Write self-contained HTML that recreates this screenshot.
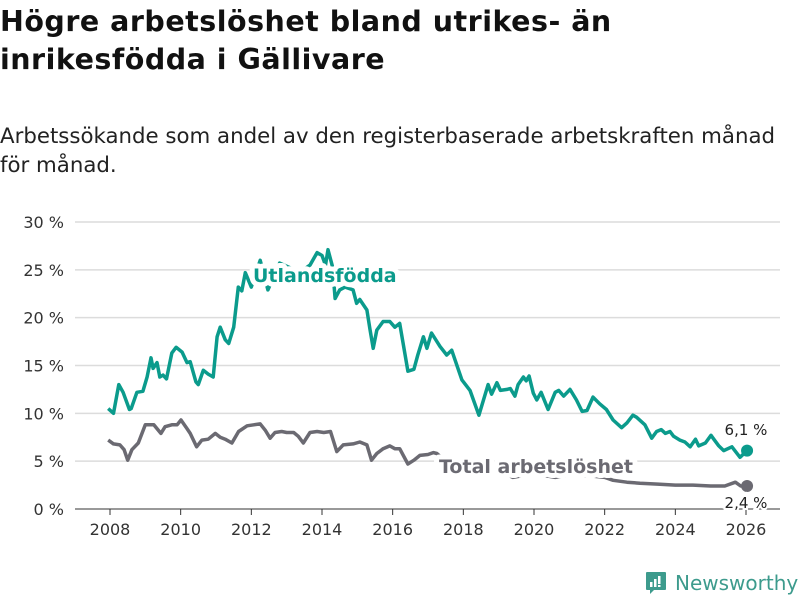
<!DOCTYPE html>
<html><head><meta charset="utf-8"><style>
body{margin:0;background:#fff;width:800px;height:600px;overflow:hidden;font-family:"DejaVu Sans","Liberation Sans",sans-serif;}
#title{position:absolute;left:0;top:3px;font:bold 28.5px/38px "DejaVu Sans",sans-serif;color:#111;margin:0;width:800px;letter-spacing:0.5px}
#sub{position:absolute;left:0;top:122px;font:21.3px/29px "DejaVu Sans",sans-serif;color:#222;margin:0;width:800px}
svg{position:absolute;left:0;top:0}
</style></head><body>
<h1 id="title">Högre arbetslöshet bland utrikes- än<br>inrikesfödda i Gällivare</h1>
<p id="sub">Arbetssökande som andel av den registerbaserade arbetskraften månad<br>för månad.</p>
<svg id="chart" width="800" height="600"></svg>
<script>
const yTicks=[0,5,10,15,20,25,30];
const xTicks=[2008,2010,2012,2014,2016,2018,2020,2022,2024,2026];
const fTimes=[2007.95,2008.1,2008.25,2008.37,2008.55,2008.6,2008.76,2008.93,2009.05,2009.16,2009.22,2009.33,2009.41,2009.5,2009.6,2009.75,2009.87,2010.04,2010.18,2010.27,2010.43,2010.5,2010.64,2010.78,2010.92,2011.03,2011.12,2011.26,2011.36,2011.5,2011.63,2011.73,2011.83,2012.0,2012.25,2012.47,2012.8,2013.1,2013.4,2013.66,2013.86,2014.0,2014.1,2014.17,2014.3,2014.37,2014.5,2014.65,2014.88,2014.98,2015.07,2015.27,2015.36,2015.45,2015.55,2015.73,2015.92,2016.06,2016.2,2016.43,2016.6,2016.71,2016.87,2016.97,2017.1,2017.34,2017.53,2017.67,2017.96,2018.19,2018.44,2018.7,2018.8,2018.95,2019.05,2019.24,2019.33,2019.46,2019.55,2019.7,2019.78,2019.86,2019.98,2020.08,2020.2,2020.4,2020.6,2020.7,2020.84,2021.02,2021.2,2021.36,2021.5,2021.67,2021.86,2022.05,2022.24,2022.48,2022.63,2022.8,2022.9,2023.14,2023.33,2023.47,2023.6,2023.72,2023.85,2023.95,2024.13,2024.27,2024.42,2024.57,2024.66,2024.85,2025.01,2025.09,2025.23,2025.37,2025.6,2025.83,2026.03];
const fVals=[10.5,10.0,13.0,12.2,10.4,10.5,12.2,12.3,13.8,15.8,14.7,15.3,13.8,14.0,13.6,16.3,16.9,16.4,15.3,15.4,13.3,13.0,14.5,14.1,13.8,18.0,19.0,17.7,17.3,19.0,23.2,22.8,24.7,23.2,26.0,22.9,25.7,25.2,24.8,25.5,26.8,26.5,25.5,27.1,25.3,22.0,22.9,23.2,22.9,21.5,21.9,20.8,18.7,16.8,18.7,19.6,19.6,19.0,19.4,14.4,14.6,16.1,18.0,16.8,18.4,17.0,16.1,16.6,13.5,12.4,9.8,13.0,12.0,13.2,12.4,12.5,12.6,11.8,13.0,13.8,13.4,13.9,12.1,11.4,12.2,10.4,12.2,12.4,11.8,12.5,11.4,10.2,10.3,11.7,11.0,10.4,9.3,8.5,9.0,9.8,9.6,8.8,7.4,8.1,8.3,7.9,8.1,7.6,7.2,7.0,6.5,7.3,6.6,6.9,7.7,7.3,6.6,6.1,6.5,5.4,6.1];
const tTimes=[2007.95,2008.1,2008.28,2008.4,2008.5,2008.62,2008.8,2009.0,2009.24,2009.44,2009.56,2009.75,2009.9,2010.01,2010.18,2010.27,2010.45,2010.6,2010.78,2010.98,2011.12,2011.26,2011.45,2011.64,2011.88,2012.07,2012.25,2012.4,2012.53,2012.67,2012.86,2013.0,2013.2,2013.33,2013.47,2013.66,2013.86,2014.05,2014.24,2014.42,2014.6,2014.88,2015.07,2015.27,2015.4,2015.55,2015.73,2015.92,2016.06,2016.2,2016.43,2016.6,2016.77,2017.0,2017.15,2017.25,2017.5,2018.0,2018.5,2019.0,2019.4,2020.0,2020.6,2021.0,2021.5,2022.0,2022.24,2022.63,2023.0,2023.5,2024.0,2024.5,2025.0,2025.4,2025.7,2025.85,2026.03];
const tVals=[7.2,6.8,6.7,6.2,5.1,6.2,6.9,8.8,8.8,7.9,8.6,8.8,8.8,9.3,8.4,7.9,6.5,7.2,7.3,7.9,7.5,7.3,6.9,8.1,8.7,8.8,8.9,8.2,7.4,8.0,8.1,8.0,8.0,7.6,6.9,8.0,8.1,8.0,8.1,6.0,6.7,6.8,7.0,6.7,5.1,5.8,6.3,6.6,6.3,6.3,4.7,5.1,5.6,5.7,5.9,5.8,5.0,4.6,4.3,4.0,3.3,3.7,3.3,3.6,3.5,3.3,3.0,2.8,2.7,2.6,2.5,2.5,2.4,2.4,2.8,2.4,2.4];
const endLabels=["6,1 %","2,4 %"];
const NS="http://www.w3.org/2000/svg";
const svg=document.getElementById('chart');
const X0=75,X1=780,Y0=509,Y30=222;
const x=t=>110+(t-2008)*(746-110)/18;
const y=v=>Y0-(v/30)*(Y0-Y30);
function mk(tag,attrs,parent){const e=document.createElementNS(NS,tag);for(const k in attrs)e.setAttribute(k,attrs[k]);(parent||svg).appendChild(e);return e;}
yTicks.forEach(v=>{
  const g=mk('line',{x1:X0,x2:X1,y1:y(v),y2:y(v),stroke:v===0?'#333':'#dcdcdc','stroke-width':v===0?1:1.5});
  
  
  const t=mk('text',{x:64,y:y(v)+6,'text-anchor':'end','font-size':16,fill:'#333','font-family':'DejaVu Sans,sans-serif'});
  t.textContent=v+' %';
  
  
});
xTicks.forEach(v=>{
  const l=mk('line',{x1:x(v),x2:x(v),y1:Y0,y2:Y0+6,stroke:'#333'});
  
  
  const t=mk('text',{x:x(v),y:535,'text-anchor':'middle','font-size':16,fill:'#333','font-family':'DejaVu Sans,sans-serif'});
  t.textContent=v;
  
  
});
function path(ts,vs){return ts.map((t,i)=>(i?'L':'M')+x(t).toFixed(1)+','+y(vs[i]).toFixed(1)).join('');}
const lt=mk('path',{d:path(tTimes,tVals),fill:'none',stroke:'#6b6a72','stroke-width':3.5,'stroke-linejoin':'round'});


const lf=mk('path',{d:path(fTimes,fVals),fill:'none',stroke:'#0b9b8c','stroke-width':3.5,'stroke-linejoin':'round'});


const df=mk('circle',{cx:x(fTimes[fTimes.length-1]),cy:y(fVals[fVals.length-1]),r:6,fill:'#0b9b8c'});


const dt=mk('circle',{cx:x(tTimes[tTimes.length-1]),cy:y(tVals[tVals.length-1]),r:6,fill:'#6b6a72'});


const l1=mk('text',{x:253,y:282,'font-size':19,'font-weight':'bold',fill:'#0b9b8c',stroke:'#fff','stroke-width':10,'stroke-linejoin':'round','paint-order':'stroke','font-family':'DejaVu Sans,sans-serif'});
l1.textContent='Utlandsfödda';


const l2=mk('text',{x:439,y:473,'font-size':19,'font-weight':'bold',fill:'#6b6a72',stroke:'#fff','stroke-width':10,'stroke-linejoin':'round','paint-order':'stroke','font-family':'DejaVu Sans,sans-serif'});
l2.textContent='Total arbetslöshet';


const e1=mk('text',{x:746,y:435,'text-anchor':'middle','font-size':15,fill:'#222',stroke:'#fff','stroke-width':4,'paint-order':'stroke','font-family':'DejaVu Sans,sans-serif'});
e1.textContent=endLabels[0];


const e2=mk('text',{x:746,y:508,'text-anchor':'middle','font-size':15,fill:'#222',stroke:'#fff','stroke-width':4,'paint-order':'stroke','font-family':'DejaVu Sans,sans-serif'});
e2.textContent=endLabels[1];


</script>
<div style="position:absolute;left:645px;top:570px;height:26px;display:flex;align-items:center;">
<svg width="22" height="24" viewBox="0 0 22 24" style="position:static"><path d="M2 1h18a1 1 0 0 1 1 1v16a1 1 0 0 1-1 1H9l-4 4v-4H2a1 1 0 0 1-1-1V2a1 1 0 0 1 1-1z" fill="#3d9b8d"/><rect x="5" y="11" width="2.5" height="5" fill="#fff"/><rect x="9" y="8" width="2.5" height="8" fill="#fff"/><rect x="13" y="5" width="2.5" height="8" fill="#fff"/><rect x="13" y="14" width="2.5" height="2" fill="#fff"/></svg>
<span style="margin-left:8px;font:20px 'DejaVu Sans',sans-serif;color:#3d9b8d;">Newsworthy</span>
</div>
</body></html>
